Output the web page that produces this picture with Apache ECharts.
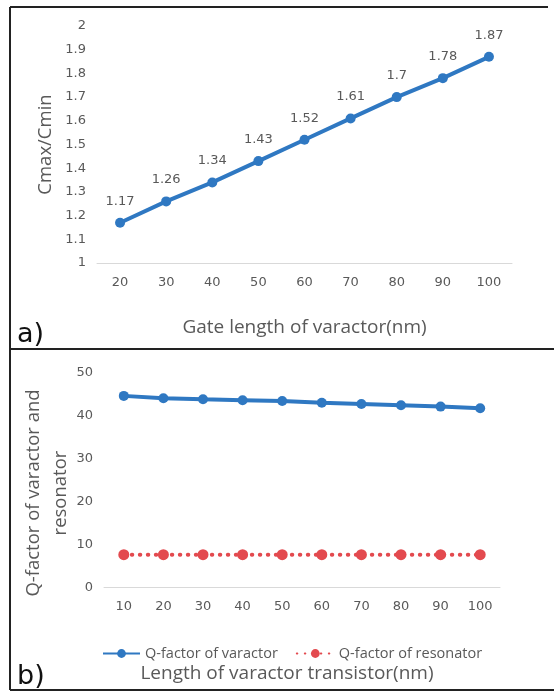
<!DOCTYPE html>
<html>
<head>
<meta charset="utf-8">
<script src="https://cdn.jsdelivr.net/npm/echarts@6/dist/echarts.min.js"></script>
<style>
  html, body { margin: 0; padding: 0; background: #fff; }
  #main { width: 554px; height: 692px; }
</style>
</head>
<body>
<div id="main"></div>
<script>
// Panel a: capacitance tuning ratio versus gate length
const gateLengths = ['20', '30', '40', '50', '60', '70', '80', '90', '100'];
const cRatio = [1.17, 1.26, 1.34, 1.43, 1.52, 1.61, 1.7, 1.78, 1.87];

// Panel b: quality factors versus transistor length
const transistorLengths = ['10', '20', '30', '40', '50', '60', '70', '80', '90', '100'];
const qVaractor = [44.6, 44.05, 43.8, 43.6, 43.4, 43.0, 42.7, 42.4, 42.1, 41.7];
const qResonator = [7.6, 7.6, 7.6, 7.6, 7.6, 7.6, 7.6, 7.6, 7.6, 7.6];

const blue = '#2f78c2';
const red = '#e34a4f';
const gray = '#595959';
const tickFont = 'DejaVu Sans';
const titleFont = 'Open Sans';

const chart = echarts.init(document.getElementById('main'), null, { renderer: 'canvas' });

const tickLabel = { color: gray, fontFamily: tickFont, fontSize: 13 };
const titleStyle = { color: gray, fontFamily: titleFont, fontSize: 19 };

chart.setOption({
  animation: false,
  backgroundColor: '#fff',
  grid: [
    { left: 97, right: 42, top: 26, bottom: 429 },
    { left: 104, right: 54, top: 372.7, bottom: 104.7 }
  ],
  legend: {
    data: ['Q-factor of varactor', 'Q-factor of resonator'],
    left: 97,
    top: 641,
    itemWidth: 37,
    itemHeight: 11,
    itemGap: 18,
    textStyle: { color: gray, fontFamily: titleFont, fontSize: 14.5 }
  },
  xAxis: [
    {
      gridIndex: 0,
      type: 'category',
      data: gateLengths,
      boundaryGap: true,
      axisLine: { lineStyle: { color: '#d9d9d9', width: 1 } },
      axisTick: { show: false },
      axisLabel: Object.assign({ margin: 13 }, tickLabel),
      name: 'Gate length of varactor(nm)',
      nameLocation: 'middle',
      nameGap: 55,
      nameMoveOverlap: false,
      nameTextStyle: Object.assign({}, titleStyle)
    },
    {
      gridIndex: 1,
      type: 'category',
      data: transistorLengths,
      boundaryGap: true,
      axisLine: { lineStyle: { color: '#d9d9d9', width: 1 } },
      axisTick: { show: false },
      axisLabel: Object.assign({ margin: 13 }, tickLabel),
      name: 'Length of varactor transistor(nm)',
      nameLocation: 'middle',
      nameGap: 77,
      nameMoveOverlap: false,
      nameTextStyle: Object.assign({ padding: [0, 30, 0, 0] }, titleStyle)
    }
  ],
  yAxis: [
    {
      gridIndex: 0,
      type: 'value',
      min: 1,
      max: 2,
      interval: 0.1,
      axisLine: { show: false },
      axisTick: { show: false },
      splitLine: { show: false },
      axisLabel: Object.assign({ margin: 11, formatter: v => String(Math.round(v * 10) / 10) }, tickLabel),
      name: 'Cmax/Cmin',
      nameLocation: 'middle',
      nameGap: 42,
      nameMoveOverlap: false,
      nameTextStyle: Object.assign({}, titleStyle, { fontSize: 18.5 })
    },
    {
      gridIndex: 1,
      type: 'value',
      min: 0,
      max: 50,
      interval: 10,
      axisLine: { show: false },
      axisTick: { show: false },
      splitLine: { show: false },
      axisLabel: Object.assign({ margin: 11 }, tickLabel),
      name: 'Q-factor of varactor and\nresonator',
      nameLocation: 'middle',
      nameGap: 30,
      nameMoveOverlap: false,
      nameTextStyle: Object.assign({}, titleStyle, { fontSize: 18.5, lineHeight: 27, padding: [0, 26, 0, 0] })
    }
  ],
  series: [
    {
      name: 'Cmax/Cmin',
      type: 'line',
      xAxisIndex: 0,
      yAxisIndex: 0,
      data: cRatio,
      symbol: 'circle',
      symbolSize: 10,
      itemStyle: { color: blue },
      lineStyle: { color: blue, width: 4 },
      label: {
        show: true,
        position: 'top',
        distance: 10,
        color: gray,
        fontFamily: tickFont,
        fontSize: 13
      }
    },
    {
      name: 'Q-factor of varactor',
      type: 'line',
      xAxisIndex: 1,
      yAxisIndex: 1,
      data: qVaractor,
      symbol: 'circle',
      symbolSize: 10,
      itemStyle: { color: blue },
      lineStyle: { color: blue, width: 4 }
    },
    {
      name: 'Q-factor of resonator',
      type: 'line',
      xAxisIndex: 1,
      yAxisIndex: 1,
      data: qResonator,
      symbol: 'circle',
      symbolSize: 11,
      itemStyle: { color: red },
      lineStyle: { color: red, width: 4, type: [0.5, 7.5], cap: 'round' }
    }
  ],
  graphic: [
    // panel frame
    { type: 'line', shape: { x1: 10, y1: 7, x2: 548, y2: 7 }, style: { stroke: '#222', lineWidth: 2 } },
    { type: 'line', shape: { x1: 10, y1: 7, x2: 10, y2: 690 }, style: { stroke: '#222', lineWidth: 2 } },
    { type: 'line', shape: { x1: 10, y1: 349, x2: 554, y2: 349 }, style: { stroke: '#222', lineWidth: 2 } },
    { type: 'line', shape: { x1: 10, y1: 690, x2: 554, y2: 690 }, style: { stroke: '#222', lineWidth: 2 } },
    // panel tags
    { type: 'text', left: 17, top: 321, style: { text: 'a)', fill: '#111', font: '27px "DejaVu Sans"' } },
    { type: 'text', left: 17, top: 663, style: { text: 'b)', fill: '#111', font: '27px "DejaVu Sans"' } }
  ]
});
</script>
</body>
</html>
